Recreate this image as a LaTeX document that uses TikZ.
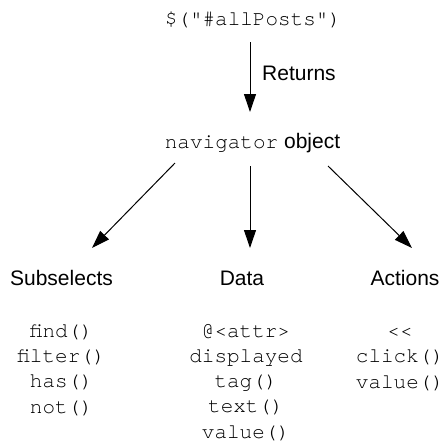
\documentclass[tikz,border=0pt]{standalone}
\usepackage{fontspec}
\setmainfont{Liberation Sans}
\newfontfamily\monofnt{TeX Gyre Cursor}
\usetikzlibrary{arrows.meta,calc}
\begin{document}
\begin{tikzpicture}[x=1pt,y=-1pt,
  txt/.style={inner sep=0pt,anchor=base,font=\fontsize{21}{25.25}\selectfont},
  code/.style={txt,font=\fontsize{21}{25.25}\selectfont\monofnt},
  col/.style={code,align=center},
  arr/.style={line width=1pt,-{Triangle[length=18pt,width=12pt]}}]
\useasboundingbox (0,0) rectangle (448,445);
\node[code] (sel) at (253,25) {\$("\#allPosts")};
\node[txt,anchor=base west] (ret) at (262,80) {Returns};
\node[txt] (nav) at (252.5,148) {{\monofnt navigator} object};
\node[txt] (sub) at (61.5,285) {Subselects};
\node[txt] (data) at (242,285) {Data};
\node[txt] (act) at (405,285) {Actions};
\node[col] (subl) at (61.5,413) {find()\\filter()\\has()\\not()};
\node[col] (datal) at (246,438) {@<attr>\\displayed\\tag()\\text()\\value()};
\node[col] (actl) at (400,388) {{<}{<}\\click()\\value()};
\coordinate (r1) at (250,42);
\coordinate (r2) at (250,112);
\coordinate (l1) at (175,163);
\coordinate (l2) at (92,248);
\coordinate (m1) at (250,166);
\coordinate (m2) at (250,248);
\coordinate (q1) at (328,166);
\coordinate (q2) at (412,248);
\draw[arr] (r1) -- (r2);
\draw[arr] (l1) -- (l2);
\draw[arr] (m1) -- (m2);
\draw[arr] (q1) -- (q2);
\end{tikzpicture}
\end{document}
